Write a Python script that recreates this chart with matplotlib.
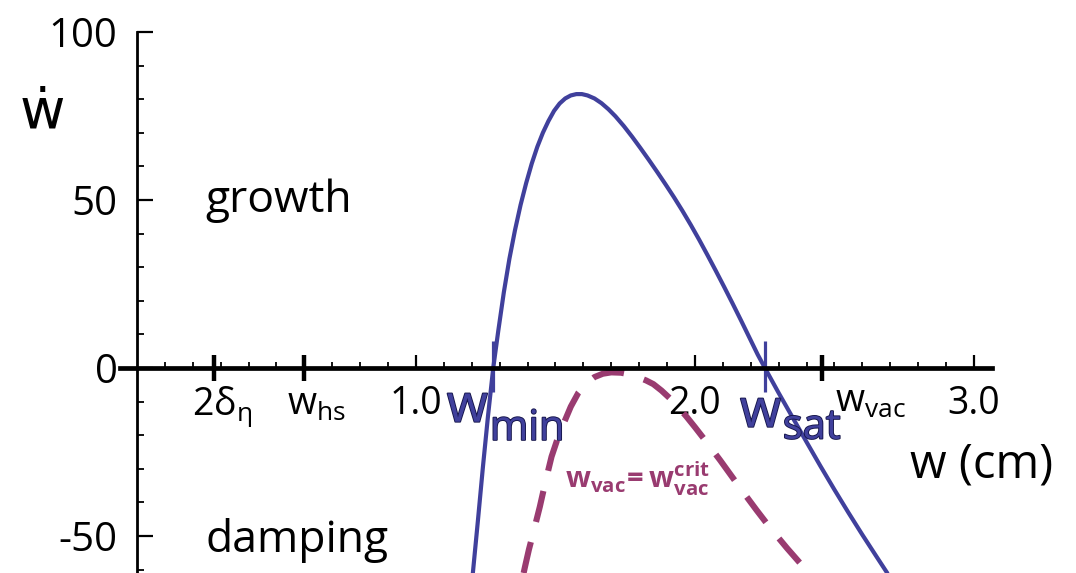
import matplotlib
matplotlib.use("Agg")
import matplotlib.pyplot as plt
import matplotlib.patheffects as pe

plt.rcParams['font.family'] = ['Open Sans', 'DejaVu Sans']
plt.rcParams['mathtext.fontset'] = 'custom'
plt.rcParams['mathtext.rm'] = 'Open Sans'
plt.rcParams['mathtext.it'] = 'Open Sans'
plt.rcParams['mathtext.bf'] = 'Open Sans:bold'

# growth rate curve (solid blue)
w_blue = [1.204, 1.222, 1.240, 1.258, 1.277, 1.295, 1.315, 1.335, 1.355, 1.375,
          1.395, 1.415, 1.435, 1.455, 1.475, 1.495, 1.515, 1.535, 1.555, 1.575,
          1.595, 1.615, 1.640, 1.665, 1.690, 1.715, 1.745, 1.775, 1.805, 1.835,
          1.865, 1.895, 1.925, 1.955, 1.985, 2.015, 2.045, 2.075, 2.105, 2.135,
          2.165, 2.195, 2.225, 2.251, 2.30, 2.35, 2.40, 2.45, 2.50, 2.55,
          2.60, 2.65, 2.687]
rate_blue = [-61, -45.5, -29.5, -14.5, 0, 11, 22.5, 32.5, 41, 48.5,
             55, 60.8, 65.8, 70, 73.5, 76.5, 78.7, 80.2, 81.1, 81.5,
             81.5, 81.1, 80.2, 78.8, 77.0, 74.9, 72.0, 68.8, 65.4, 61.9,
             58.3, 54.6, 50.8, 46.8, 42.6, 38.2, 33.6, 28.9, 24.1, 19.2,
             14.2, 9.1, 4.0, 0, -7.4, -14.7, -22.0, -29.2, -36.2, -43.0,
             -49.6, -56.0, -60.7]

# critical case w_vac = w_vac^crit (dashed)
w_crit = [1.386, 1.391, 1.405, 1.420, 1.444, 1.465, 1.486, 1.507, 1.528, 1.555,
          1.582, 1.610, 1.640, 1.670, 1.700, 1.735, 1.765, 1.795, 1.825, 1.851,
          1.880, 1.910, 1.940, 1.970, 2.000, 2.030, 2.060, 2.090, 2.130, 2.170,
          2.221, 2.270, 2.330, 2.388, 2.405]
rate_crit = [-61, -59.1, -54, -49.2, -41.3, -33.6, -26.4, -21.2, -16.8, -11.5,
             -7.4, -4.6, -2.7, -1.7, -1.3, -1.4, -1.9, -2.7, -3.7, -4.8,
             -6.7, -9.0, -11.6, -14.5, -17.6, -20.8, -24.1, -27.4, -32, -36.6,
             -42.3, -47.6, -53.6, -59.1, -61]

ytick_vals = [100, 50, 0, -50]
ytick_text = ['100', '50', '0', '-50']
xtick_vals = [1.0, 2.0, 3.0]
xtick_text = ['1.0', '2.0', '3.0']
special_w = [0.276, 0.6, 2.455]        # 2 delta_eta, w_hs, w_vac
w_min, w_sat = 1.277, 2.251

blue = '#40409c'
purple = '#993b70'

fig = plt.figure(figsize=(10.76, 5.73), dpi=100)
ax = fig.add_axes([0, 0, 1, 1])
ax.set_xlim(-0.491, 3.366)
ax.set_ylim(-61, 109.5)

for s in ['top', 'right']:
    ax.spines[s].set_visible(False)
ax.spines['left'].set_position(('data', 0))
ax.spines['bottom'].set_position(('data', 0))
ax.spines['left'].set_bounds(-61, 100)
ax.spines['bottom'].set_bounds(-0.06, 3.065)
ax.spines['left'].set_linewidth(2.0)
ax.spines['bottom'].set_linewidth(3.4)

ax.set_yticks(ytick_vals, ytick_text)
ax.set_yticks(range(-60, 101, 10), minor=True)
ax.set_xticks(xtick_vals, xtick_text)
ax.set_xticks([i / 10 for i in range(1, 31)], minor=True)
ax.tick_params(axis='y', which='major', direction='in', length=11.5, width=1.6,
               labelsize=29, pad=14)
ax.tick_params(axis='y', which='minor', direction='in', length=5, width=1.3)
ax.tick_params(axis='x', which='major', direction='in', length=9.5, width=1.6,
               labelsize=27, pad=12)
ax.tick_params(axis='x', which='minor', direction='in', length=4.5, width=1.3)

# thick marks for the characteristic widths
ax.vlines(special_w, -3.9, 3.9, colors='black', linewidth=3.2)

ax.plot(w_crit, rate_crit, color=purple, linewidth=4.4,
        linestyle=(0, (5.2, 3.4)), solid_capstyle='butt')
ax.plot(w_blue, rate_blue, color=blue, linewidth=3.0)
ax.vlines([w_min, w_sat], -7, 8, colors=blue, linewidth=2.3)

# axis texts
ax.text(-0.419, 71.7, '\u1e87', fontsize=40, ha='left', va='baseline')
ax.text(0.244, 46.4, 'growth', fontsize=32, ha='left', va='baseline')
ax.text(0.244, -54.8, 'damping', fontsize=32, ha='left', va='baseline')
ax.text(3.283, -32.7, 'w (cm)', fontsize=34, ha='right', va='baseline')

ax.text(0.197, -14, r'$\mathregular{2\delta_{\eta}}$', fontsize=27, ha='left', va='baseline')
ax.text(0.538, -14, r'$\mathregular{w_{hs}}$', fontsize=27, ha='left', va='baseline')
ax.text(2.502, -13, r'$\mathregular{w_{vac}}$', fontsize=27, ha='left', va='baseline')

edge = [pe.withStroke(linewidth=1.3, foreground='#15154a')]
ax.text(1.111, -16, 'w', fontsize=38, color=blue, ha='left', va='baseline', path_effects=edge)
ax.text(1.265, -21.4, 'min', fontsize=30, color=blue, ha='left', va='baseline', path_effects=edge)
ax.text(2.162, -17.5, 'w', fontsize=38, color=blue, ha='left', va='baseline', path_effects=edge)
ax.text(2.315, -21, 'sat', fontsize=30, color=blue, ha='left', va='baseline', path_effects=edge)

ax.text(1.534, -35.7, r'$\mathbf{w_{vac}\!=w_{vac}^{crit}}$', fontsize=21,
        color=purple, ha='left', va='baseline')

fig.savefig('out.png', dpi=100)
